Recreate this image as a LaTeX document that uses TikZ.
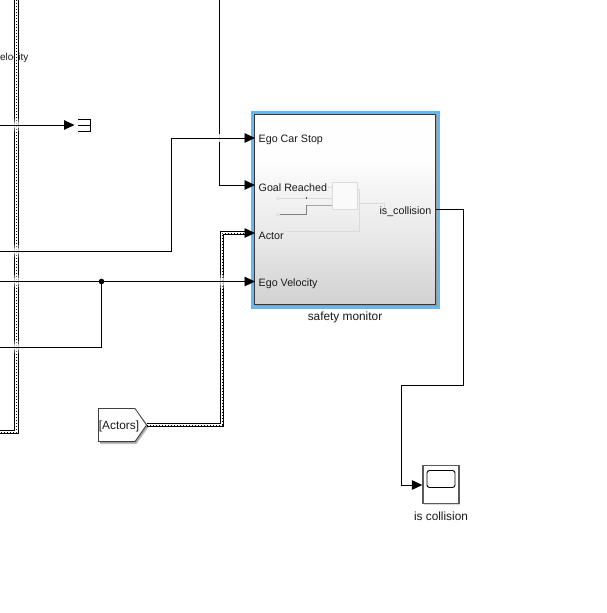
\documentclass[tikz,border=0pt]{standalone}
\usepackage{fontspec}
\setmainfont{Liberation Sans}
\usetikzlibrary{arrows.meta,shadows,calc}
\definecolor{selblue}{RGB}{100,186,238}
\definecolor{faintline}{gray}{0.86}
\pgfdeclareverticalshading{blockgrad}{100bp}{
  color(0bp)=(black!18);
  color(25bp)=(black!18);
  color(42bp)=(black!9);
  color(58bp)=(black!3);
  color(63bp)=(black!0.5);
  color(100bp)=(white)}
\tikzset{
  sigline/.style={draw=black,line width=0.95pt},
  sigarrow/.style={sigline,-{Triangle[length=10.5pt,width=9.5pt]}},
  busline/.style={preaction={draw=black,line width=4.5pt},preaction={draw=white,line width=2.9pt},draw=black,line width=0.9pt,dash pattern=on 1pt off 2pt},
  portlabel/.style={font=\fontsize{10.7}{12}\selectfont,anchor=west,inner sep=0pt,text=black!90},
  blocklabel/.style={font=\fontsize{11.85}{13}\selectfont,inner sep=0pt,text=black!90},
  thumb/.style={draw=faintline,line width=0.6pt},
}
\begin{document}
\begin{tikzpicture}[x=1pt,y=-1pt]
\useasboundingbox (0,0) rectangle (607,613);
\clip (0,0) rectangle (607,613);
\fill[white] (0,0) rectangle (607,613);

% named free ends and joints
\coordinate (busTop) at (16.5,0);
\coordinate (busCorner) at (16.5,432);
\coordinate (busLeft) at (0,432);
\coordinate (termLeft) at (0,125);
\coordinate (stopLeft) at (0,251);
\coordinate (stopBend) at (171.7,251);
\coordinate (stopUp) at (171.7,138);
\coordinate (goalTop) at (219,0);
\coordinate (goalBend) at (219,185);
\coordinate (velLeft) at (0,281.5);
\coordinate (fbLeft) at (0,347);
\coordinate (fbBend) at (101.5,347);
\coordinate (junction) at (101.5,281.5);
\coordinate (actBend1) at (222,425);
\coordinate (actBend2) at (222,233);

% label cut by the picture's edge in the reference
\node[font=\fontsize{10}{12}\selectfont,inner sep=0pt,anchor=east,text=black!90] (vel) at (28.6,58) {elocity};

% thick bus at left
\draw[busline] (busTop) -- (busCorner) -- (busLeft);
\foreach \yy in {125,251,281,347}{
  \fill[white,opacity=.35] (13.5,\yy-6) rectangle (19.5,\yy+6);
  \fill[white,opacity=.6] (13.5,\yy-3) rectangle (19.5,\yy+3);
}

% main block
\fill[selblue] (251,111) rectangle (439.5,309);
\fill[black!40] (255.5,115) rectangle (436.8,305.8);
\node[draw=black!78,line width=1pt,inner sep=0pt,minimum width=180.5pt,minimum height=190pt,
      shade,shading=blockgrad] (monitor) at (345,209) {};

% thumbnail inside the block
\node[thumb,fill=black!2,inner sep=0pt,minimum width=25pt,minimum height=27pt] (tbox) at (344.3,195.5) {};
\node[thumb,circle,inner sep=0pt,minimum size=3.5pt] (tin1) at (278,198.5) {};
\node[thumb,circle,inner sep=0pt,minimum size=3.5pt] (tin2) at (278,214.5) {};
\draw[thumb] (tin1) -- (tbox.west |- tin1);
\draw[black!70,line width=.5pt,densely dotted] (306.5,196.5) -- (306.5,199.5);
\draw[black!50,line width=.85pt] (tin2) -- (306.5,214.5) -- (306.5,205);
\draw[black!35,line width=.65pt] (306.5,205) -- (tbox.west |- 306.5,205);
\draw[thumb] (tbox.east |- 0,203) -- (384,203) -- (384,208);
\draw[thumb] (tbox.east |- 0,189) -- (359.5,189) -- (359.5,231) -- (285,231);
\draw[thumb] (328,187) -- (tbox.west |- 0,187);

% port labels
\node[portlabel] (lstop) at (258.5,140) {Ego Car Stop};
\node[portlabel] (lgoal) at (258.5,187.6) {Goal Reached};
\node[portlabel] (lact)  at (258.5,235.6) {Actor};
\node[portlabel] (lvel)  at (258.5,283.8) {Ego Velocity};
\node[portlabel,anchor=east] (lcol) at (431.5,211.6) {is\_collision};
\node[blocklabel] (lmon) at (345,317.4) {safety monitor};

\coordinate (pStop) at (255,138);
\coordinate (pGoal) at (255,185);
\coordinate (pAct)  at (255,233);
\coordinate (pVel)  at (255,281.5);
\coordinate (pOut)  at (435.5,209.5);

% tag
\node[inner sep=0pt,minimum size=0pt] (tagtip) at (147,425) {};
\fill[black!22] (100,410.5) -- (136.5,410.5) -- (149,426.5) -- (136.5,444) -- (100,444) -- cycle;
\fill[black!38] (100,410) -- (136,410) -- (148,426) -- (136,443) -- (100,443) -- cycle;
\draw[draw=black!75,fill=white,line width=.8pt] (98.5,408.5) -- (135,408.5) -- (146.5,425) -- (135,441.5) -- (98.5,441.5) -- cycle;
\node[blocklabel] (tag) at (119,426.4) {[Actors]};

% actor bus
\draw[busline] (tagtip.center) -- (actBend1) -- (actBend2) -- (247,233);
\draw[sigarrow] (245,233) -- (pAct);
\fill[white,opacity=.35] (219,275) rectangle (225,288);
\fill[white,opacity=.6] (219,278) rectangle (225,285);

% signals
\draw[sigarrow] (termLeft) -- (74.5,125);
\draw[sigline] (goalTop) -- (goalBend);
\fill[white,opacity=.85] (216.5,134) rectangle (221.5,142);
\draw[sigarrow] (stopLeft) -- (stopBend) -- (stopUp) -- (pStop);
\draw[sigarrow] (goalBend) -- (pGoal);
\draw[sigarrow] (velLeft) -- (pVel);
\draw[sigline] (fbLeft) -- (fbBend) -- (junction);
\fill (junction) circle (2.8pt);

% terminator
\coordinate (term) at (78,125);
\draw[sigline,line width=.9pt] (78,119.5) -- (90.5,119.5) -- (90.5,131) -- (78,131);
\draw[sigline,line width=.9pt] (term) -- (90.5,125);

% scope
\node[draw=black!65,line width=1.3pt,fill=white,inner sep=0pt,minimum width=36pt,minimum height=38.5pt,drop shadow={opacity=.3,shadow xshift=1.2pt,shadow yshift=-1.2pt}] (scope) at (441,484.5) {};
\draw[draw=black,line width=.9pt,rounded corners=2.5pt,fill=white] (427,470.5) rectangle (455,487.5);
\node[blocklabel] (lscope) at (441,516.6) {is collision};

\draw[sigarrow] (pOut) -- (463,209.5) -- (463,385) -- (401.7,385) -- (401.7,485) -- (scope.west |- 0,485);
\end{tikzpicture}
\end{document}
